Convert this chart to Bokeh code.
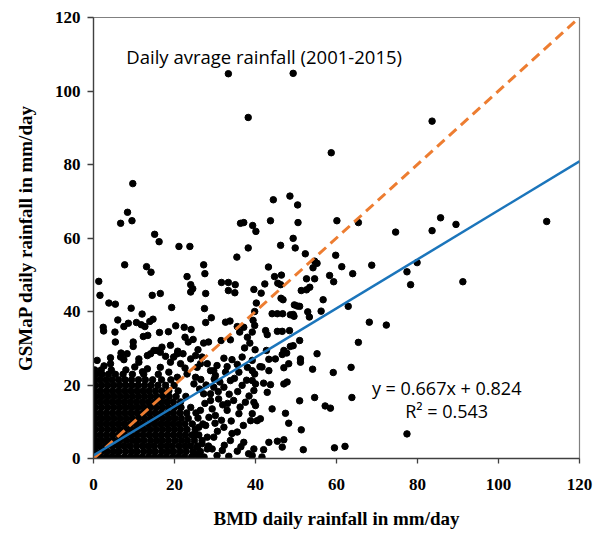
from bokeh.plotting import figure
from bokeh.models import Range1d, SingleIntervalTicker, Label
from bokeh.embed import file_html
from bokeh.resources import INLINE

# ---------------- data ----------------
x_ticks = [0, 20, 40, 60, 80, 100, 120]
y_ticks = [0, 20, 40, 60, 80, 100, 120]

fit_slope = 0.667
fit_intercept = 0.824
fit_r2 = 0.543

# scattered points with GSMaP > 50 mm/day  (BMD, GSMaP)
pts_high = [
    (33.3, 104.7), (49.3, 104.8), (38.2, 92.8), (83.6, 91.8), (58.7, 83.2),
    (9.7, 74.8), (8.4, 67.0), (6.7, 64.0), (9.5, 64.7), (15.1, 61.0),
    (16.2, 59.0), (21.1, 57.7), (23.8, 57.7), (36.3, 64.0), (37.1, 64.2),
    (39.3, 63.4), (40.1, 61.8), (38.2, 57.3), (44.4, 70.4), (43.7, 64.7),
    (48.5, 71.4), (50.4, 69.0), (50.5, 64.2), (49.3, 59.9), (46.2, 58.0),
    (49.8, 57.3), (60.1, 64.7), (65.4, 64.2), (74.6, 61.6), (83.6, 62.0),
    (85.7, 65.5), (89.5, 63.7), (111.9, 64.5), (52.3, 55.7), (59.8, 55.3),
    (54.6, 53.7), (55.2, 53.1), (61.3, 52.2), (68.7, 52.6), (79.9, 53.3),
    (77.4, 50.8), (64.0, 50.3), (54.2, 51.9), (35.4, 54.8), (7.7, 52.7),
    (13.1, 52.2), (14.2, 50.7), (27.2, 52.7), (27.5, 50.3), (43.2, 52.1),
]

# scattered points with GSMaP 24-50 mm/day
pts_mid = [
    (78.3, 47.3), (91.2, 48.1), (58.3, 49.8), (59.3, 48.1), (52.6, 48.9),
    (54.6, 48.9), (53.4, 46.6), (51.3, 45.7), (52.6, 45.9), (56.7, 43.2),
    (56.2, 40.1), (62.9, 41.4), (52.9, 39.9), (53.3, 38.5), (50.3, 41.5),
    (49.3, 39.2), (68.1, 37.1), (72.3, 36.3), (65.4, 31.6), (50.9, 32.1),
    (49.3, 30.7), (44.7, 49.5), (46.4, 49.9), (45.5, 47.7), (46.2, 47.3),
    (42.3, 47.5), (39.6, 46.0), (41.4, 45.0), (46.3, 43.6), (46.8, 43.2),
    (40.2, 42.3), (49.6, 41.8), (50.9, 41.4), (44.1, 39.4), (45.4, 39.4),
    (46.7, 39.4), (48.6, 39.1), (49.5, 38.7), (39.8, 40.0), (39.4, 37.6),
    (39.8, 36.2), (39.2, 34.4), (42.5, 34.8), (42.9, 33.7), (45.4, 34.6),
    (46.6, 34.6), (48.4, 34.8), (48.6, 30.5), (39.9, 29.6), (42.7, 29.4),
    (47.0, 29.4), (47.7, 28.7), (46.6, 28.3), (55.2, 28.5), (43.3, 27.0),
    (44.9, 27.1), (51.1, 27.1), (51.1, 26.2), (48.2, 25.8), (41.1, 25.0),
    (47.0, 24.7), (54.1, 24.3), (63.6, 24.8), (59.2, 23.4),
    (23.1, 49.5), (1.3, 48.2), (1.6, 44.4), (24.0, 47.3), (24.5, 46.2),
    (24.0, 45.3), (14.5, 44.4), (16.5, 44.9), (27.7, 44.9), (31.6, 47.9),
    (33.3, 47.9), (35.0, 47.3), (33.3, 45.7), (34.9, 45.1), (3.8, 42.3),
    (5.4, 42.0), (9.3, 40.9), (19.3, 41.1), (27.4, 40.8), (12.0, 39.3),
    (29.1, 38.3), (27.7, 37.0), (6.0, 37.7), (2.4, 35.7), (2.5, 34.7),
    (5.3, 34.4), (7.5, 35.9), (8.6, 36.8), (10.6, 37.0), (11.8, 36.4),
    (12.7, 35.9), (13.9, 37.3), (14.7, 37.9), (12.3, 33.2), (13.4, 33.5),
    (16.3, 34.3), (18.5, 34.5), (20.3, 36.1), (22.4, 35.7), (24.1, 35.1),
    (22.6, 33.0), (24.6, 32.4), (23.4, 31.7), (27.2, 31.4), (28.4, 31.7),
    (32.6, 37.1), (33.7, 37.4), (35.5, 35.9), (37.1, 35.7), (36.1, 34.4),
    (33.8, 32.3), (31.5, 32.1), (38.0, 33.0), (38.6, 31.4), (37.3, 30.1),
    (5.4, 31.7), (9.8, 31.7), (9.8, 30.5), (16.9, 30.3), (19.0, 30.8),
    (14.9, 29.4), (16.5, 28.9), (20.8, 29.2), (6.8, 28.7), (4.2, 27.4),
    (7.5, 26.9), (11.2, 27.1), (13.3, 28.0), (17.8, 27.8), (19.8, 27.6),
    (22.1, 28.5), (25.2, 28.0), (25.8, 29.6), (26.8, 27.6), (0.9, 26.7),
    (32.2, 27.3), (34.2, 26.9), (36.7, 27.6), (39.2, 26.7),
]

# scattered points right of the dense cluster, GSMaP < 26 mm/day
pts_low = [
    (41.6, 24.9), (43.3, 23.9), (39.8, 23.0), (42.0, 20.5), (42.9, 18.0),
    (39.2, 21.2), (40.0, 20.3), (39.6, 18.5), (43.7, 20.1), (47.8, 20.8),
    (47.0, 20.3), (54.6, 16.6), (50.9, 15.7), (63.8, 16.6), (57.2, 14.3),
    (58.5, 13.7), (44.1, 13.5), (39.6, 15.3), (40.0, 14.4), (39.2, 12.2),
    (40.4, 10.3), (41.2, 10.8), (47.4, 12.3), (48.2, 9.6), (51.3, 7.8),
    (43.3, 4.4), (45.4, 4.7), (47.0, 5.1), (46.6, 3.1), (42.0, 2.4),
    (51.8, 2.4), (59.5, 2.9), (62.1, 3.3), (77.4, 6.7), (41.6, 0.4),
    (39.2, 0.8), (38.3, 1.3),
    (28.9, 23.9), (30.1, 22.6), (32.6, 23.5), (35.9, 23.5), (39.2, 23.9),
    (33.8, 21.2), (36.7, 19.9), (32.2, 19.4), (28.9, 17.6), (30.9, 16.2),
    (34.6, 15.8), (37.5, 15.3), (33.0, 13.1), (35.9, 12.2), (30.1, 11.7),
    (38.8, 10.3), (27.7, 9.0), (32.2, 8.5), (35.5, 7.2), (29.7, 5.8),
    (33.8, 4.9), (37.1, 4.4), (28.1, 2.6), (31.8, 2.2), (35.5, 2.0),
    (39.6, 2.6), (30.5, 0.8),
    (26.5, 21.5), (27.8, 20.0), (31.2, 20.8), (34.8, 21.8), (37.8, 21.3),
    (26.2, 18.9), (30.8, 18.2), (33.5, 17.5), (35.6, 18.2), (38.4, 17.0),
    (27.5, 15.0), (31.9, 14.6), (36.2, 14.0), (25.8, 11.0), (29.3, 13.5),
    (31.6, 10.4), (34.0, 10.2), (37.0, 9.0), (25.2, 6.5), (30.6, 7.4),
    (34.2, 6.8), (26.8, 4.0), (32.3, 3.6), (36.4, 3.2), (25.5, 1.2),
    (33.4, 0.6), (27.0, 0.3), (30.0, 9.6), (33.1, 15.0), (29.8, 21.6),
    (28.9, 15.8), (29.7, 19.4), (27.2, 17.6), (26.4, 13.1), (28.5, 11.2),
    (26.0, 8.5), (28.1, 5.8), (25.6, 3.1), (29.3, 2.6), (24.8, 20.3),
]

# fringe points on top of the dense cluster
pts_fringe = [
    (6.7, 27.6), (8.3, 28.5), (11.2, 26.2), (14.1, 28.5), (15.7, 29.4),
    (19.0, 26.2), (20.7, 28.5), (21.5, 25.8), (24.0, 27.1), (25.6, 24.8),
    (28.1, 25.8), (29.7, 23.9), (25.2, 22.1), (23.1, 23.0), (4.2, 25.8),
    (13.3, 24.4), (16.5, 24.8), (18.6, 23.5), (20.7, 22.1), (26.4, 25.8),
    (30.5, 25.3), (33.0, 25.0), (35.5, 25.6), (38.0, 24.8), (2.6, 25.2),
    (10.2, 24.9), (22.6, 24.6), (12.1, 23.6),
]

# dense cluster near the origin: GSMaP level of each row and the BMD values on it
cluster_gsmap = [0.4, 1.9, 3.4, 4.9, 6.4, 7.9, 9.4, 10.9, 12.4, 13.9,
                 15.4, 16.9, 18.4, 19.9, 21.4, 22.9, 24.1]
cluster_bmd = [
    [0.2, 1.6, 3.1, 4.5, 6.0, 7.6, 9.1, 10.5, 12.0, 13.6, 15.1, 16.5, 18.0, 19.6, 21.0, 22.5, 24.2, 25.9, 27.3],
    [0.5, 2.0, 3.4, 4.9, 6.3, 7.9, 9.4, 10.8, 12.4, 13.9, 15.3, 16.9, 18.4, 19.8, 21.4, 22.9, 24.6, 26.4],
    [0.2, 1.5, 3.0, 4.6, 6.1, 7.5, 9.0, 10.6, 12.1, 13.5, 15.0, 16.6, 18.1, 19.5, 21.1, 22.6, 24.0, 25.7, 28.4],
    [0.6, 2.1, 3.6, 5.0, 6.5, 8.1, 9.6, 11.0, 12.5, 14.1, 15.6, 17.0, 18.5, 20.1, 21.7, 23.2, 24.9, 26.8],
    [0.3, 1.7, 3.2, 4.7, 6.2, 7.7, 9.2, 10.7, 12.2, 13.7, 15.2, 16.7, 18.2, 19.7, 21.2, 22.7, 24.3, 26.0],
    [0.5, 2.0, 3.5, 5.0, 6.5, 8.0, 9.5, 11.0, 12.5, 14.0, 15.5, 17.0, 18.5, 20.0, 21.5, 23.1, 25.1],
    [0.2, 1.6, 3.1, 4.6, 6.1, 7.6, 9.1, 10.6, 12.1, 13.6, 15.1, 16.6, 18.1, 19.6, 21.1, 22.6, 24.4, 27.0],
    [0.6, 2.1, 3.6, 5.1, 6.6, 8.1, 9.6, 11.1, 12.6, 14.1, 15.6, 17.1, 18.6, 20.1, 21.7, 23.4],
    [0.3, 1.7, 3.2, 4.7, 6.2, 7.7, 9.2, 10.7, 12.2, 13.7, 15.2, 16.7, 18.2, 19.7, 21.3, 23.0, 25.3],
    [0.5, 2.0, 3.5, 5.0, 6.5, 8.0, 9.5, 11.0, 12.5, 14.0, 15.5, 17.0, 18.5, 20.0, 21.6, 24.0],
    [0.2, 1.6, 3.1, 4.6, 6.1, 7.6, 9.1, 10.6, 12.1, 13.6, 15.1, 16.6, 18.1, 19.7, 21.5],
    [0.6, 2.1, 3.6, 5.1, 6.6, 8.1, 9.6, 11.1, 12.6, 14.1, 15.6, 17.1, 18.7, 20.4, 22.8],
    [0.3, 1.7, 3.2, 4.7, 6.2, 7.7, 9.2, 10.7, 12.2, 13.7, 15.3, 16.9, 18.6, 20.9],
    [0.5, 2.0, 3.5, 5.0, 6.5, 8.0, 9.5, 11.0, 12.6, 14.2, 15.9, 17.8, 19.9],
    [0.2, 1.6, 3.1, 4.6, 6.2, 7.8, 9.4, 11.1, 12.8, 14.6, 16.8, 19.1],
    [0.6, 2.1, 3.7, 5.4, 7.3, 9.6, 12.4, 16.0],
    [0.3, 1.9, 4.4, 8.0],
]

# ---------------- assemble ----------------
bmd, gsmap = [], []
for group in (pts_high, pts_mid, pts_low, pts_fringe):
    for bx, gy in group:
        bmd.append(bx)
        gsmap.append(gy)
for gy, row in zip(cluster_gsmap, cluster_bmd):
    for bx in row:
        bmd.append(bx)
        gsmap.append(gy)

p = figure(width=593, height=533, output_backend="svg", toolbar_location=None,
           x_range=Range1d(0, 120), y_range=Range1d(0, 120),
           min_border_left=93, min_border_top=17, min_border_right=14,
           min_border_bottom=75)

p.xgrid.visible = False
p.ygrid.visible = False
p.background_fill_color = "white"
p.border_fill_color = "white"
p.outline_line_color = "#808080"
p.outline_line_width = 1.2

for ax, ticks in ((p.xaxis[0], x_ticks), (p.yaxis[0], y_ticks)):
    ax.ticker = SingleIntervalTicker(interval=ticks[1] - ticks[0], num_minor_ticks=0)
    ax.minor_tick_line_color = None
    ax.major_tick_in = 0
    ax.axis_line_color = "#404040"
    ax.axis_line_width = 1.3
    ax.major_tick_line_color = "#404040"
    ax.major_tick_line_width = 1.3
    ax.major_label_text_font = "Liberation Serif"
    ax.major_label_text_font_style = "bold"
    ax.major_label_text_font_size = "17px"
    ax.major_label_text_color = "black"
    ax.axis_label_text_font = "Liberation Serif"
    ax.axis_label_text_font_style = "bold"
    ax.axis_label_text_font_size = "19px"
    ax.axis_label_text_color = "black"

p.xaxis.axis_label = "BMD daily rainfall in mm/day"
p.yaxis.axis_label = "GSMaP daily rainfall in mm/day"
p.xaxis.major_tick_out = 5
p.yaxis.major_tick_out = 6
p.xaxis.major_label_standoff = 15
p.yaxis.major_label_standoff = 7
p.xaxis.axis_label_standoff = 15
p.yaxis.axis_label_standoff = 16

p.scatter(bmd, gsmap, size=6.5, marker="circle", fill_color="black", line_color="black")

# 1:1 line and regression line
one_x = [x_ticks[0], x_ticks[-1]]
p.line(one_x, one_x, line_color="#ED7D31", line_width=3, line_dash="10 6")
fit_x = [x_ticks[0], x_ticks[-1]]
fit_y = [fit_slope * v + fit_intercept for v in fit_x]
p.line(fit_x, fit_y, line_color="#1B75BB", line_width=2.5)

p.add_layout(Label(x=8.1, y=109.4, text="Daily avrage rainfall (2001-2015)",
                   text_font="Open Sans", text_font_size="18.5px", text_color="black",
                   text_baseline="alphabetic"))
p.add_layout(Label(x=87.2, y=19.1, text=f"y = {fit_slope}x + {fit_intercept}",
                   text_font="Open Sans", text_font_size="18px", text_color="black",
                   text_align="center", text_baseline="alphabetic"))
p.add_layout(Label(x=87.2, y=12.9, text=f"R\u00b2 = {fit_r2}",
                   text_font="Open Sans", text_font_size="18px", text_color="black",
                   text_align="center", text_baseline="alphabetic"))

open("out.html", "w").write(file_html(p, INLINE))
